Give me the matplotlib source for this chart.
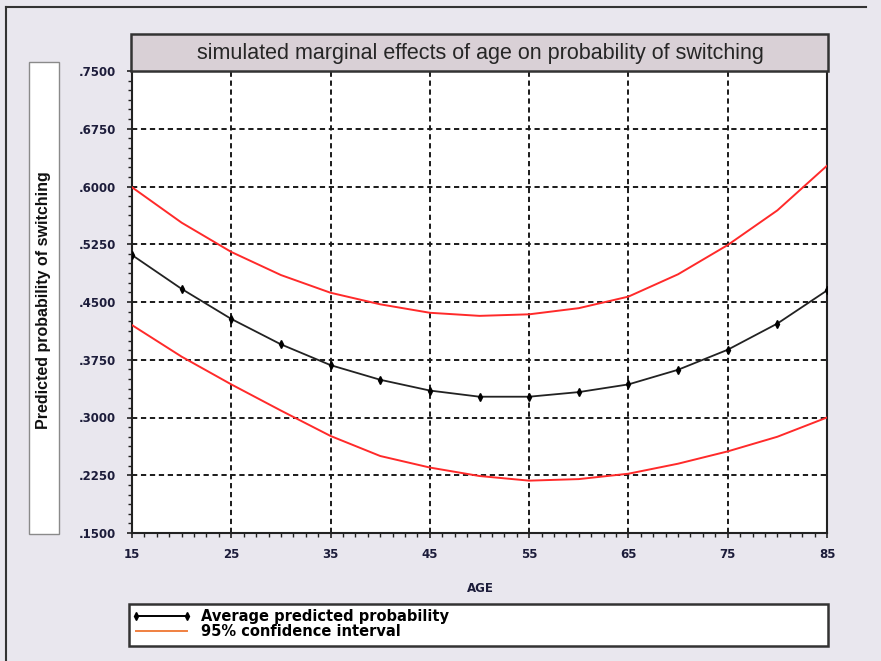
import matplotlib
matplotlib.use("Agg")
import matplotlib.pyplot as plt
from matplotlib.patches import Rectangle
from matplotlib.lines import Line2D
from matplotlib.ticker import AutoMinorLocator, FixedLocator

# ---- data ----
ages = [15, 20, 25, 30, 35, 40, 45, 50, 55, 60, 65, 70, 75, 80, 85]
avg_prob = [0.511, 0.467, 0.428, 0.395, 0.368, 0.349, 0.335, 0.327, 0.327,
            0.333, 0.343, 0.362, 0.388, 0.422, 0.465]
ci_upper = [0.599, 0.553, 0.515, 0.485, 0.462, 0.447, 0.436, 0.432, 0.434,
            0.442, 0.457, 0.486, 0.524, 0.569, 0.627]
ci_lower = [0.420, 0.379, 0.343, 0.309, 0.276, 0.250, 0.235, 0.224, 0.218,
            0.220, 0.227, 0.240, 0.256, 0.275, 0.300]
x_ticks = [15, 25, 35, 45, 55, 65, 75, 85]
y_ticks = [0.15, 0.225, 0.30, 0.375, 0.45, 0.525, 0.60, 0.675, 0.75]
y_ticklabels = [".1500", ".2250", ".3000", ".3750", ".4500", ".5250", ".6000", ".6750", ".7500"]
title = "simulated marginal effects of age on probability of switching"
ylabel = "Predicted probability of switching"
xlabel = "AGE"
legend_labels = ["Average predicted probability", "95% confidence interval"]

W, H = 881, 661
BG = "#e9e7ee"
fig = plt.figure(figsize=(W / 100, H / 100), dpi=100, facecolor=BG)

def fx(px):
    return px / W

def fy(py):
    return 1 - py / H

# outer frame lines (left and top)
fig.add_artist(Line2D([fx(6), fx(6)], [fy(7), fy(661)], color="#333333", lw=1.5,
                      transform=fig.transFigure))
fig.add_artist(Line2D([fx(6), fx(866)], [fy(7), fy(7)], color="#333333", lw=1.5,
                      transform=fig.transFigure))

# axes
L, R, T, B = 132, 827, 71, 533
ax = fig.add_axes([fx(L), fy(B), fx(R - L), (B - T) / H])
ax.set_facecolor("white")

ax.plot(ages, ci_upper, color="#ff2a2a", lw=1.4, zorder=3)
ax.plot(ages, ci_lower, color="#ff2a2a", lw=1.4, zorder=3)
ax.plot(ages, avg_prob, color="#222222", lw=1.3, marker="d", markersize=4.2,
        markerfacecolor="black", markeredgecolor="black", zorder=4)

ax.set_xlim(15, 85)
ax.set_ylim(0.15, 0.75)
ax.xaxis.set_major_locator(FixedLocator(x_ticks))
ax.yaxis.set_major_locator(FixedLocator(y_ticks))
ax.set_yticklabels(y_ticklabels)
ax.xaxis.set_minor_locator(AutoMinorLocator(8))
ax.yaxis.set_minor_locator(AutoMinorLocator(6))

ax.grid(True, which="major", color="#1a1a1a", lw=1.4, linestyle=(0, (2.7, 1.9)))
ax.set_axisbelow(True)

for s in ax.spines.values():
    s.set_color("#222222")
    s.set_linewidth(1.5)

tick_color = "#1c1c3a"
ax.tick_params(axis="both", which="major", direction="inout", length=7, width=1.2,
               colors="#222222", labelcolor=tick_color, labelsize=8.5)
ax.tick_params(axis="both", which="minor", direction="out", length=3, width=1.0,
               colors="#222222")
ax.tick_params(axis="y", which="major", pad=8)
ax.tick_params(axis="x", which="major", pad=7)
for lab in ax.get_xticklabels() + ax.get_yticklabels():
    lab.set_fontweight("bold")
    lab.set_fontfamily("DejaVu Sans")

# title box
fig.add_artist(Rectangle((fx(131), fy(71)), fx(828 - 131), (71 - 34) / H,
                         transform=fig.transFigure, facecolor="#d9d0d6",
                         edgecolor="#333333", lw=1.8, zorder=5))
fig.text(fx(480), fy(54), title, ha="center", va="center", fontsize=15.5,
         family="Liberation Sans", color="#262626", zorder=6)

# y label box
fig.add_artist(Rectangle((fx(29), fy(534)), fx(59 - 29), (534 - 62) / H,
                         transform=fig.transFigure, facecolor="white",
                         edgecolor="#8a8a8a", lw=1.0, zorder=5))
fig.text(fx(44), fy(300), ylabel, ha="center", va="center", rotation=90,
         fontsize=11.5, fontweight="bold", family="Liberation Sans",
         color="#111111", zorder=6)

# x label
fig.text(fx(480), fy(588), xlabel, ha="center", va="center", fontsize=8.5,
         fontweight="bold", family="DejaVu Sans", color=tick_color)

# legend box
fig.add_artist(Rectangle((fx(129), fy(646)), fx(828 - 129), (646 - 604) / H,
                         transform=fig.transFigure, facecolor="white",
                         edgecolor="#333333", lw=1.8, zorder=5))
handles = [Line2D([], [], color="black", lw=1.4, marker="d", markersize=4),
           Line2D([], [], color="#f08040", lw=1.4)]
leg = fig.legend(handles, legend_labels, loc="upper left",
                 bbox_to_anchor=(fx(130), fy(608)), bbox_transform=fig.transFigure,
                 ncol=1, frameon=False, numpoints=2,
                 handlelength=4.1, handletextpad=0.7, borderaxespad=0,
                 borderpad=0.1, labelspacing=-0.05,
                 prop={"family": "DejaVu Sans", "weight": "bold", "size": 10.5})
leg.set_zorder(6)

fig.savefig("out.png", dpi=100, facecolor=BG)
